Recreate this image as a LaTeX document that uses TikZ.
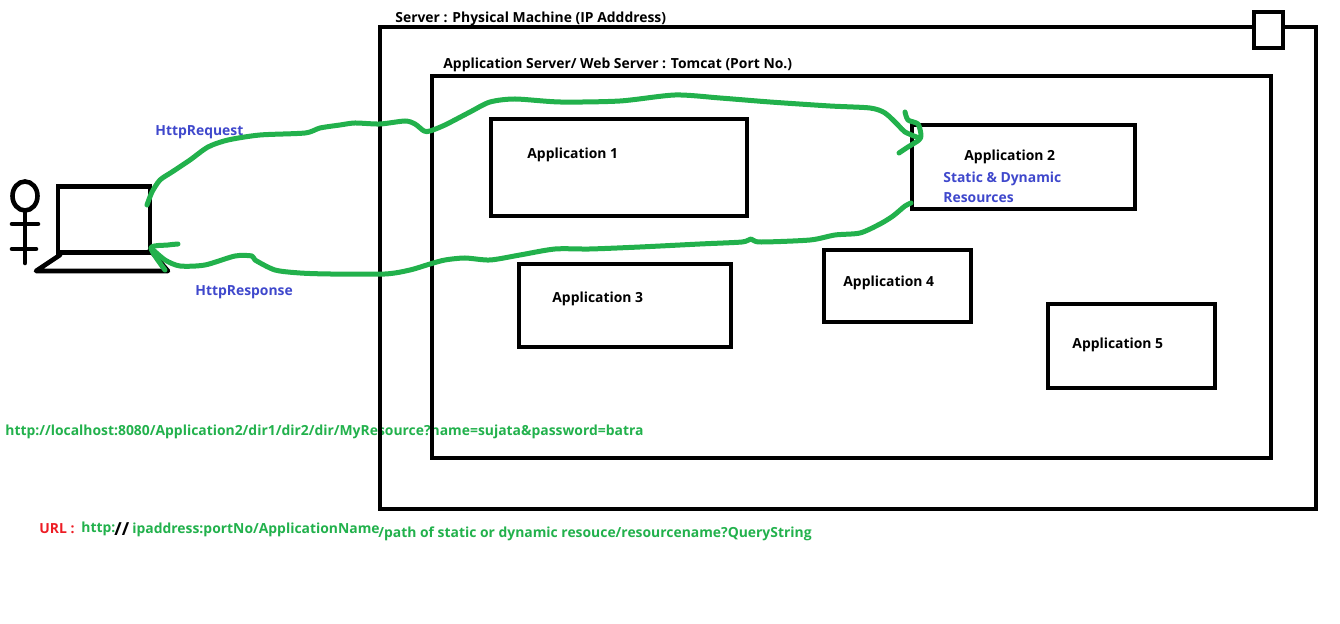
\documentclass[tikz,border=0pt]{standalone}
\usepackage{fontspec}
\setmainfont{Open Sans}
\usetikzlibrary{shapes.geometric}
\definecolor{paintgreen}{HTML}{22B14C}
\definecolor{paintblue}{HTML}{3F48CC}
\definecolor{paintred}{HTML}{ED1C24}
\tikzset{
  boxnode/.style={draw, rectangle, line width=2.3pt, inner sep=0pt},
  txt/.style={anchor=west, inner sep=0pt, font=\fontsize{6.95pt}{8pt}\selectfont\bfseries},
  bluetxt/.style={txt, text=paintblue},
  greentxt/.style={txt, text=paintgreen},
  pen/.style={line width=2.3pt, line cap=round, line join=round},
  greenpen/.style={pen, line width=2.5pt, paintgreen}
}
\begin{document}
\begin{tikzpicture}[x=0.5pt, y=-0.5pt]
        \useasboundingbox (0,0) rectangle (1340,624);

        % url texts
        \node[greentxt] (url_sample) at (5,432) {http://localhost:8080/Application2/dir1/dir2/dir/MyResource?name=sujata\&password=batra};
        \node[txt, text=paintred] (url_label) at (39,529) {URL :};
        \node[greentxt] (url_http) at (81,529) {http:};
        \node[txt, font=\fontsize{9pt}{9pt}\selectfont\bfseries] (url_slash) at (114,529) {//};
        \node[greentxt] (url_app) at (132,530) {ipaddress:portNo/ApplicationName};
        \node[greentxt] (url_path) at (378,534) {/path of static or dynamic resouce/resourcename?QueryString};

        % server and tomcat
        \node[boxnode, minimum width=468pt, minimum height=241pt] (server) at (848,268) {};
        \node[boxnode, fill=white, minimum width=14.5pt, minimum height=18pt] (server_knob) at (1268.5,30) {};
        \node[boxnode, minimum width=419.5pt, minimum height=191pt] (tomcat) at (851.5,267) {};
        \node[txt] (server_label) at (395,19) {Server : Physical Machine (IP Adddress)};
        \node[txt] (tomcat_label) at (443,65) {Application Server/ Web Server : Tomcat (Port No.)};

        % applications
        \node[boxnode, minimum width=128pt, minimum height=48.5pt] (app1) at (619,167.5) {};
        \node[boxnode, minimum width=111.5pt, minimum height=42pt] (app2) at (1023.5,167) {};
        \node[boxnode, minimum width=106pt, minimum height=41.5pt] (app3) at (625,305.5) {};
        \node[boxnode, minimum width=73.5pt, minimum height=36pt] (app4) at (897.5,286) {};
        \node[boxnode, minimum width=83.5pt, minimum height=42pt] (app5) at (1131.5,346) {};
        \node[txt] (app1_label) at (527,155) {Application 1};
        \node[txt] (app2_label) at (964,157) {Application 2};
        \node[txt] (app3_label) at (552,299) {Application 3};
        \node[txt] (app4_label) at (843,283) {Application 4};
        \node[txt] (app5_label) at (1072,345) {Application 5};
        \node[bluetxt] (app2_static) at (943,179) {Static \& Dynamic};
        \node[bluetxt] (app2_res) at (943,198) {Resources};

        % user and laptop
        \node[draw, ellipse, line width=2.3pt, minimum width=12.5pt, minimum height=14.5pt, inner sep=0pt] (head) at (25,196) {};
        \coordinate (feet) at (25,263);
        \draw[pen] (head) -- (feet);
        \coordinate (arm_l) at (12,224);
        \coordinate (arm_r) at (38,224);
        \draw[pen] (arm_l) -- (arm_r);
        \coordinate (leg_l) at (12,249);
        \coordinate (leg_r) at (36,249);
        \draw[pen] (leg_l) -- (leg_r);
        \node[boxnode, minimum width=46pt, minimum height=33pt] (screen) at (104,219.5) {};
        \coordinate (base_a) at (60,255);
        \coordinate (base_b) at (36,271);
        \coordinate (base_c) at (168,271);
        \coordinate (base_d) at (150,250);
        \draw[pen] (base_a) -- (base_b) -- (base_c) -- (base_d);

        \node[bluetxt] (req_label) at (155,132) {HttpRequest};
        \node[bluetxt] (resp_label) at (195,292) {HttpResponse};

        % request
        \coordinate (req_from) at (147,205);
        \coordinate (req_to) at (919,138);
        \draw[greenpen] plot[smooth, tension=0.45] coordinates {(req_from) (152,192) (160,180) (172,172) (190,160) (208,147) (228,140) (260,135) (305,133) (320,128) (340,125) (355,123) (380,124) (405,121) (415,124) (424,131) (430,131) (445,125) (470,112) (490,102) (515,99) (560,102) (620,101) (675,95) (720,98) (770,102) (830,106) (870,108) (885,113) (898,125) (905,132) (req_to)};
        \coordinate (req_tip_a) at (905,112);
        \coordinate (req_tip_b) at (899,153);
        \draw[greenpen] plot[smooth, tension=0.45] coordinates {(req_tip_a) (908,120) (918,124) (921,135) (919,140) (908,147) (req_tip_b)};

        % response
        \coordinate (resp_from) at (911,203);
        \coordinate (resp_to) at (151,248);
        \draw[greenpen] plot[smooth, tension=0.45] coordinates {(resp_from) (905,206) (893,216) (880,224) (860,233) (835,235) (810,240) (760,242) (751,239) (742,242) (700,244) (640,247) (590,249) (555,249) (520,255) (490,260) (465,258) (445,260) (430,264) (410,270) (385,274) (330,274) (300,273) (275,270) (255,260) (252,256) (235,256) (205,265) (180,266) (165,260) (resp_to)};
        \coordinate (resp_tip_a) at (178,244);
        \coordinate (resp_tip_b) at (165,270);
        \draw[greenpen] plot[smooth, tension=0.45] coordinates {(resp_tip_a) (168,245) (resp_to) (resp_tip_b)};
\end{tikzpicture}
\end{document}
